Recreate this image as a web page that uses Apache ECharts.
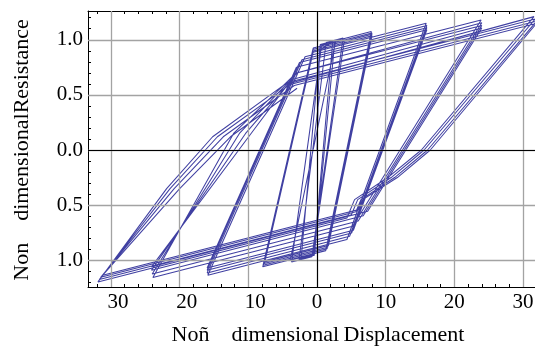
<!DOCTYPE html>
<html>
<head>
<meta charset="utf-8">
<script src="https://cdn.jsdelivr.net/npm/echarts@6/dist/echarts.min.js"></script>
<style>
html,body{margin:0;padding:0;background:#fff;}
#c{width:535px;height:349px;}
</style>
</head>
<body>
<div id="c"></div>
<script>
// ---- tick values & labels (minus signs are missing in the original) ----
const xTickValues = [-30, -20, -10, 0, 10, 20, 30];
const xTickLabels = ['30', '20', '10', '0', '10', '20', '30'];
const yTickValues = [-1, -0.5, 0, 0.5, 1];
const yTickLabels = ['1.0', '0.5', '0.0', '0.5', '1.0'];
const xMinorTicks = [-32, -28, -26, -24, -22, -18, -16, -14, -12, -8, -6, -4, -2, 2, 4, 6, 8, 12, 14, 16, 18, 22, 24, 26, 28, 32];
const yMinorTicks = [-1.2, -1.1, -0.9, -0.8, -0.7, -0.6, -0.4, -0.3, -0.2, -0.1, 0.1, 0.2, 0.3, 0.4, 0.6, 0.7, 0.8, 0.9, 1.1, 1.2];

const xTitle = 'Noñ\u2002\u2002dimensional\u2009Displacement';
const yTitle = 'Non\u2002\u2002dimensionalResistance';

// ---- hysteresis path vertices [displacement, resistance] ----
const loopSmall = [
  [0, 0], [0.35, 0.9], [2.3, 0.985],
  [-0.47, -0.95], [-2.3, -0.98],
  [0.47, 0.956], [2.6, 0.99],
  [-0.39, -0.955], [-2.6, -0.99],
  [1.33, 0.975], [3.8, 1.015],
  [-0.74, -0.968], [-3.7, -1.015],
  [0.66, 0.947], [4.0, 1.0],
  [-0.64, -0.948], [-3.9, -1.0],
  [2.74, 0.992], [7.9, 1.075]
];
const loop8 = [
  [1.27, -0.913], [-7.9, -1.06],
  [-0.55, 0.925], [8.0, 1.062],
  [1.47, -0.896], [-7.85, -1.045],
  [-0.6, 0.912], [8.0, 1.05],
  [1.56, -0.882], [-7.7, -1.03],
  [-0.56, 0.899], [8.0, 1.036],
  [1.66, -0.867], [-7.6, -1.015],
  [-0.56, 0.887], [15.9, 1.15]
];
const loop16 = [
  [4.36, -0.812], [-15.9, -1.136],
  [-1.74, 0.846], [16.0, 1.13],
  [4.75, -0.783], [-16.0, -1.115],
  [-2.19, 0.819], [16.0, 1.11],
  [5.04, -0.753], [-16.0, -1.09],
  [-2.55, 0.793], [16.0, 1.09],
  [5.3, -0.729], [-16.0, -1.07],
  [-3.0, 0.75], [23.9, 1.18]
];
const loop24 = [
  [5.18, -0.692], [-23.9, -1.157],
  [-12.15, 0.15], [-3.0, 0.699], [24.0, 1.155],
  [6.0, -0.645], [-24.0, -1.125],
  [-11.3, 0.15], [-2.83, 0.701], [24.0, 1.13],
  [6.73, -0.597], [-24.1, -1.09],
  [-10.4, 0.15], [-3.6, 0.64], [24.0, 1.106],
  [7.38, -0.556], [-24.1, -1.06],
  [-9.6, 0.15], [-4.2, 0.6], [31.6, 1.21]
];
const loop32 = [
  [15.2, 0], [10.3, -0.25], [5.47, -0.45], [4.36, -0.617], [-31.9, -1.197],
  [-21.9, -0.35], [-15.2, 0.12], [-4.28, 0.613], [31.8, 1.19],
  [15.6, 0], [10.8, -0.25], [5.93, -0.45], [5.01, -0.588], [-31.7, -1.175],
  [-21.4, -0.35], [-14.5, 0.12], [-3.92, 0.595], [32.0, 1.17],
  [16.1, 0], [11.3, -0.25], [6.4, -0.45], [5.66, -0.56], [-31.5, -1.155],
  [-20.8, -0.35], [-13.65, 0.12], [-3.31, 0.585], [32.0, 1.15],
  [16.5, 0], [11.7, -0.25], [6.67, -0.45], [6.07, -0.54], [-31.2, -1.136],
  [-20.0, -0.35], [-12.6, 0.12], [-2.9, 0.56]
];

const XMIN = -33.35, XMAX = 33.35, YMIN = -1.243, YMAX = 1.261;
const FONT = '"Liberation Serif", "Times New Roman", serif';
const LINE = '#4040a2';

function labIndex(values, v) {
  for (let i = 0; i < values.length; i++) if (Math.abs(values[i] - v) < 1e-9) return i;
  return -1;
}
function xLabel(v) {
  const i = labIndex(xTickValues, v);
  if (i < 0) return '';
  // the original keeps room for the (missing) minus sign, shifting negative labels right
  return v < 0 ? '{s|\u00a0}{n|' + xTickLabels[i] + '}' : '{n|' + xTickLabels[i] + '}';
}
function yLabel(v) {
  const i = labIndex(yTickValues, v);
  return i < 0 ? '' : yTickLabels[i];
}
function xAx(pos, ticks, len, showLine, showLabel) {
  return {
    type: 'value', min: XMIN, max: XMAX, position: pos,
    axisLine: { show: showLine, onZero: false, lineStyle: { color: '#000', width: 1 } },
    axisTick: { show: true, inside: true, length: len, customValues: ticks, lineStyle: { color: '#000', width: 1 } },
    axisLabel: showLabel ? {
      customValues: xTickValues, formatter: xLabel, fontFamily: FONT, fontSize: 21, color: '#000', margin: 5,
      rich: {
        s: { width: 14, fontFamily: FONT, fontSize: 21 },
        n: { fontFamily: FONT, fontSize: 21, color: '#000' }
      }
    } : { show: false },
    splitLine: { show: false }
  };
}
function yAx(pos, ticks, len, showLine, showLabel) {
  return {
    type: 'value', min: YMIN, max: YMAX, position: pos,
    axisLine: { show: showLine, onZero: false, lineStyle: { color: '#000', width: 1 } },
    axisTick: { show: true, inside: true, length: len, customValues: ticks, lineStyle: { color: '#000', width: 1 } },
    axisLabel: showLabel ? { customValues: yTickValues, formatter: yLabel, fontFamily: FONT, fontSize: 21, color: '#000', margin: 5 } : { show: false },
    splitLine: { show: false }
  };
}

const pathData = [].concat(loopSmall, loop8, loop16, loop24, loop32);

const chart = echarts.init(document.getElementById('c'), null, { renderer: 'canvas' });
chart.setOption({
  animation: false,
  backgroundColor: '#fff',
  grid: { left: 88, top: 11, width: 458, height: 276, containLabel: false, outerBoundsMode: 'none' },
  xAxis: [
    xAx('bottom', xTickValues, 5, true, true),
    xAx('bottom', xMinorTicks, 3, false, false),
    xAx('top', xTickValues, 5, true, false),
    xAx('top', xMinorTicks, 3, false, false)
  ],
  yAxis: [
    yAx('left', yTickValues, 5, true, true),
    yAx('left', yMinorTicks, 3, false, false),
    yAx('right', yTickValues, 5, true, false),
    yAx('right', yMinorTicks, 3, false, false)
  ],
  graphic: [
    { type: 'text', x: 318, y: 335, style: { text: xTitle, fontFamily: FONT, fontSize: 22, fill: '#000', align: 'center', verticalAlign: 'middle' } },
    { type: 'text', x: 22, y: 150, rotation: Math.PI / 2, style: { text: yTitle, fontFamily: FONT, fontSize: 22, fill: '#000', align: 'center', verticalAlign: 'middle' } }
  ],
  series: [
    {
      type: 'line', z: 1, data: [], showSymbol: false, silent: true,
      markLine: {
        silent: true, symbol: 'none', label: { show: false }, animation: false,
        lineStyle: { color: '#a3a3a3', width: 1.3, type: 'solid' },
        data: xTickValues.map(v => ({ xAxis: v })).concat(yTickValues.map(v => ({ yAxis: v })))
      }
    },
    {
      type: 'line', z: 2, data: [], showSymbol: false, silent: true,
      markLine: {
        silent: true, symbol: 'none', label: { show: false }, animation: false,
        lineStyle: { color: '#000', width: 1.1, type: 'solid' },
        data: [{ xAxis: 0 }, { yAxis: 0 }]
      }
    },
    {
      type: 'line', z: 3, data: pathData, showSymbol: false, symbol: 'none',
      lineStyle: { color: LINE, width: 1.05 }
    }
  ]
});
</script>
</body>
</html>
